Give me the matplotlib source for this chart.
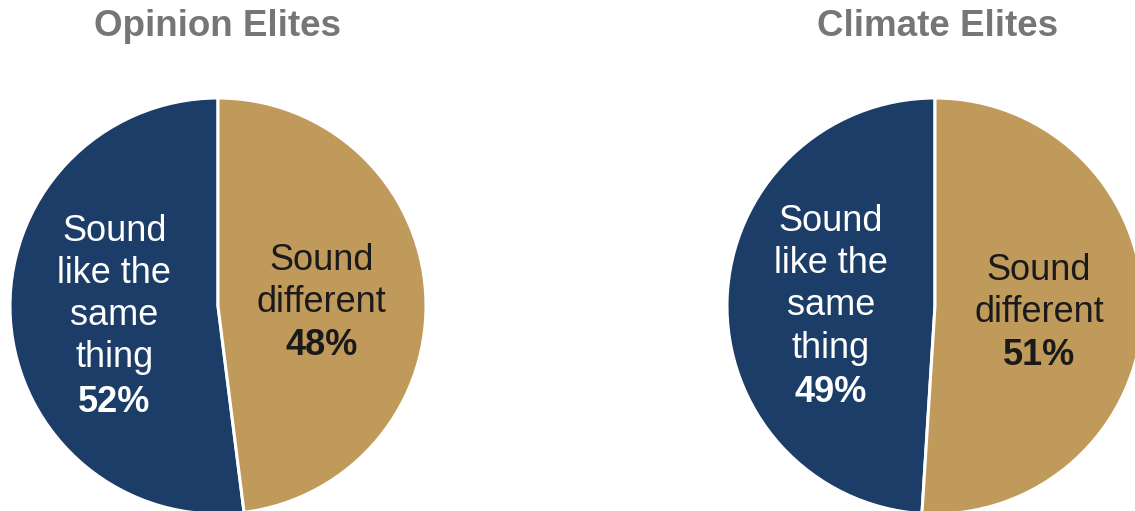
import matplotlib.pyplot as plt
import numpy as np

plt.rcParams["font.family"] = ["Liberation Sans", "DejaVu Sans"]

# Data
titles = ["Opinion Elites", "Climate Elites"]
categories = ["Sound\nlike the\nsame\nthing", "Sound\ndifferent"]
opinion_values = [52, 48]
climate_values = [49, 51]

NAVY = "#1c3d67"
GOLD = "#bf9a5b"
TITLE_GRAY = "#767676"
FONT_PT = 26
LINE_PT = 31  # line height in points
SHIFT_PT = -2.5  # nudge label blocks down a little

W, H = 1135, 511
fig = plt.figure(figsize=(W / 100, H / 100), dpi=100)

# pie boxes in pixels: (left, bottom, size)
boxes = [(10, -3, 416), (727, -3, 416)]
title_x = [218, 938]

for title, values, (left, bottom, size), tx in zip(
    titles, [opinion_values, climate_values], boxes, title_x
):
    ax = fig.add_axes([left / W, bottom / H, size / W, size / H])
    wedges, _ = ax.pie(
        values,
        colors=[NAVY, GOLD],
        startangle=90,
        counterclock=True,
        radius=1,
        wedgeprops=dict(edgecolor="white", linewidth=2.2),
    )
    ax.set_xlim(-1, 1)
    ax.set_ylim(-1, 1)
    ax.set_aspect("equal")
    ax.axis("off")

    for wedge, cat, val, color in zip(wedges, categories, values, ["white", "#1a1a1a"]):
        mid = np.deg2rad((wedge.theta1 + wedge.theta2) / 2)
        x, y = 0.5 * np.cos(mid), 0.5 * np.sin(mid)
        k = cat.count("\n") + 1
        ax.annotate(cat, xy=(x, y), xytext=(0, 0.5 * LINE_PT + SHIFT_PT),
                    textcoords="offset points", ha="center", va="center",
                    fontsize=FONT_PT, color=color, linespacing=1.27)
        ax.annotate(f"{val}%", xy=(x, y), xytext=(0, -k / 2 * LINE_PT + SHIFT_PT),
                    textcoords="offset points", ha="center", va="center",
                    fontsize=FONT_PT, color=color, fontweight="bold")

    fig.text(tx / W, 1 - 26 / H, title, ha="center", va="center",
             fontsize=26.5, fontweight="bold", color=TITLE_GRAY)

fig.savefig("out.png", dpi=100)
plt.close(fig)
